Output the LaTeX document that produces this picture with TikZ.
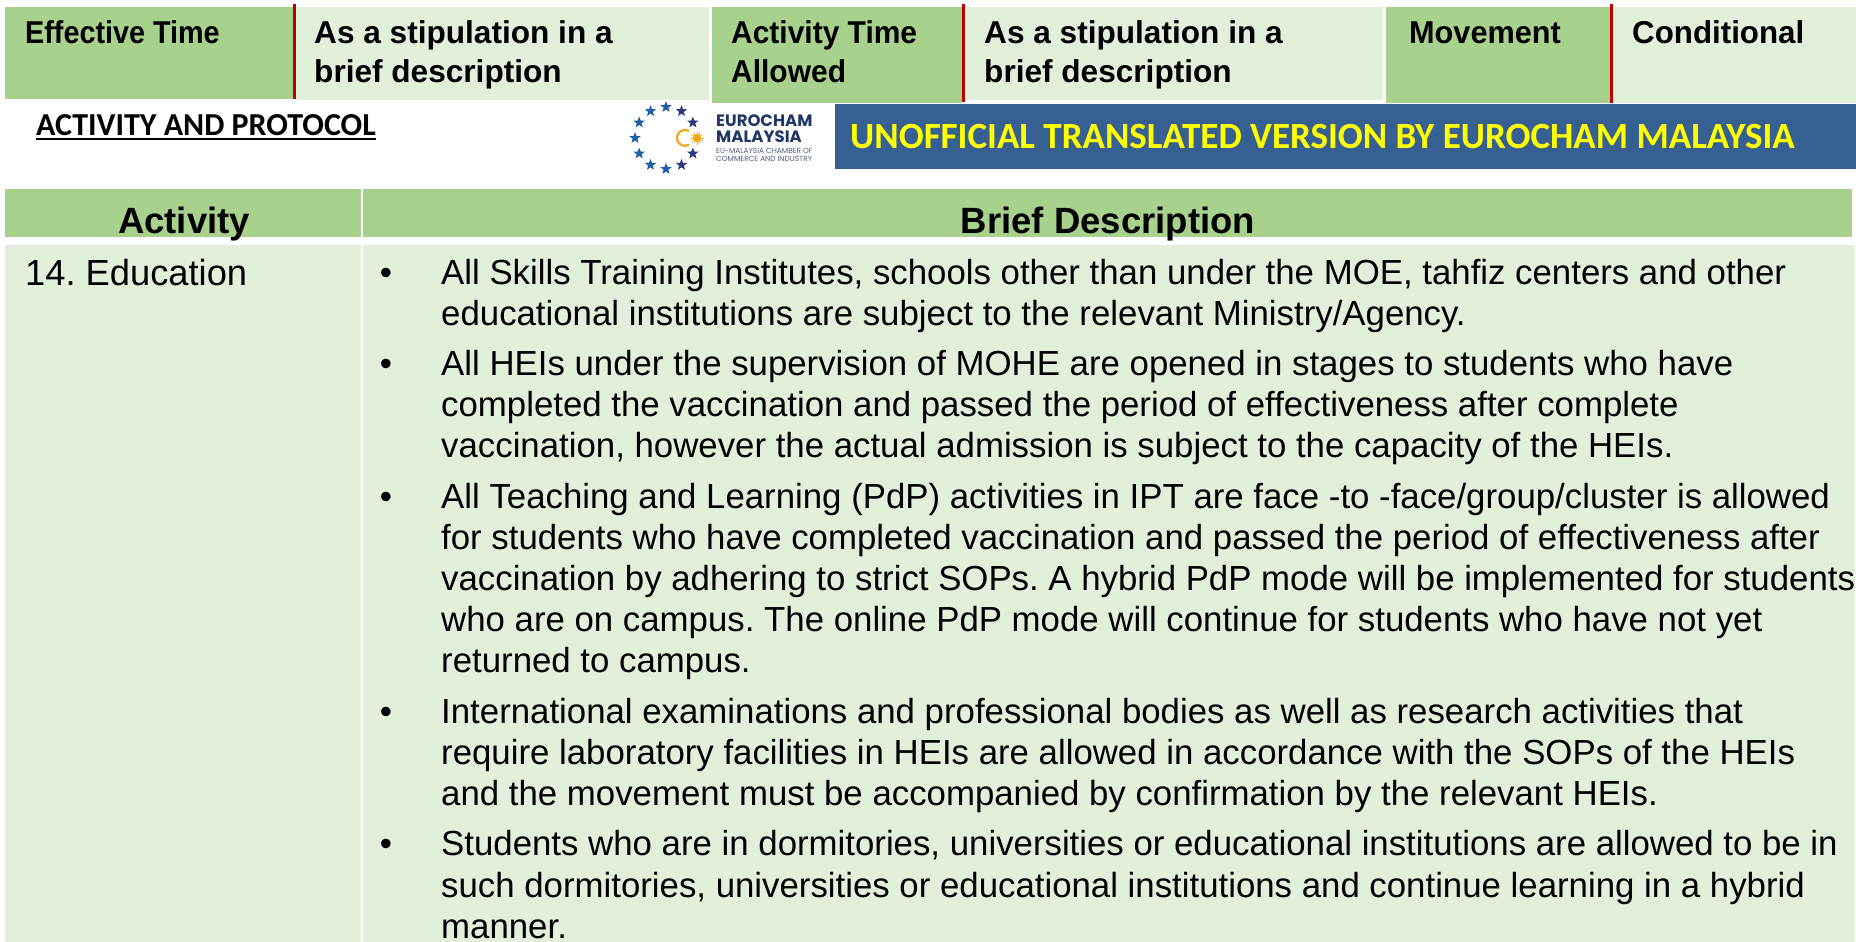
\documentclass[tikz,border=0pt]{standalone}
\usepackage{fontspec}
\setmainfont{Liberation Sans}
\newfontfamily\carl{Carlito}
\newfontfamily\logofont{Poppins}
\definecolor{hdgreen}{HTML}{A9D18E}
\definecolor{ltgreen}{HTML}{E2EFDA}
\definecolor{redbar}{HTML}{C00000}
\definecolor{bluebar}{HTML}{366092}
\definecolor{ylw}{HTML}{FFFF00}
\definecolor{navy}{HTML}{1F3864}
\definecolor{starblue}{HTML}{1F5FA8}
\definecolor{stardark}{HTML}{2B3A80}
\definecolor{sunc}{HTML}{F0A818}
\usetikzlibrary{shapes.geometric}
\frenchspacing
\newcommand{\sqz}[2]{\scalebox{#1}[1]{#2}}
\tikzset{
  x=1pt,y=-1pt,
  toptxt/.style={anchor=base west,inner sep=0pt,font=\fontsize{31.6}{31.6}\selectfont\bfseries},
  headtxt/.style={anchor=base,inner sep=0pt,font=\fontsize{36.5}{36.5}\selectfont\bfseries},
  bodytxt/.style={anchor=base west,inner sep=0pt,font=\fontsize{34.8}{34.8}\selectfont},
  bullettxt/.style={anchor=base,inner sep=0pt,font=\fontsize{34.8}{34.8}\selectfont},
  euStar/.style={star,star points=5,star point ratio=2.4,inner sep=0pt,minimum size=12pt,draw=none,fill=#1},
  logobig/.style={anchor=base west,inner sep=0pt,text=navy,font=\logofont\fontsize{16.5}{17}\selectfont\bfseries},
  logosmall/.style={anchor=base west,inner sep=0pt,text=navy!80,font=\logofont\fontsize{7.4}{8}\selectfont},
}
\begin{document}
\begin{tikzpicture}
\useasboundingbox (0,0) rectangle (1856,942);
\fill[white] (0,0) rectangle (1856,942);
% top row
\fill[hdgreen] (5,7) rectangle (293,99);
\fill[ltgreen] (295,7) rectangle (709,100);
\fill[hdgreen] (712,7) rectangle (962,103);
\fill[ltgreen] (964,7) rectangle (1383,100);
\fill[hdgreen] (1386,7) rectangle (1610,103);
\fill[ltgreen] (1612,7) rectangle (1856,103);
\fill[redbar] (293,4) rectangle (295.5,99);
\fill[redbar] (962,4) rectangle (964.5,102);
\fill[redbar] (1610,4) rectangle (1612.5,103);
\node[toptxt] (t1) at (25,44) {\sqz{0.91}{Effective Time}};
\node[toptxt] (t2) at (314,44) {As a stipulation in a};
\node[toptxt] (t2b) at (314,82.5) {brief description};
\node[toptxt] (t3) at (731,44) {\sqz{0.948}{Activity Time}};
\node[toptxt] (t3b) at (731,82.5) {\sqz{0.948}{Allowed}};
\node[toptxt] (t4) at (984,44) {As a stipulation in a};
\node[toptxt] (t4b) at (984,82.5) {brief description};
\node[toptxt] (t5) at (1409,44) {\sqz{0.97}{Movement}};
\node[toptxt] (t6) at (1632,44) {\sqz{0.99}{Conditional}};
% subtitle
\node[anchor=base west,inner sep=0pt,font=\carl\fontsize{32}{32}\selectfont\bfseries] (sub) at (36,135) {ACTIVITY AND PROTOCOL};
\draw[line width=2pt] (sub.base west)+(0,3.5) -- ([yshift=-3.5pt]sub.base east);
% logo
\foreach \a/\c in {30/stardark,60/stardark,90/starblue,120/starblue,150/starblue,180/starblue,210/starblue,240/starblue,270/starblue,300/stardark,330/stardark}{
  \node[euStar=\c] (s\a) at ({666+31*cos(\a)},{138+31*sin(\a)}) {};
}
\draw[sunc,line width=2.2pt] (689,131) arc (-60:-300:8);
\fill[sunc] (697,138) circle (4.2);
\foreach \a in {0,30,...,330}{\draw[sunc,line width=.7pt] (697,138) -- ++(\a:6.5);}
\node[logobig] (l1) at (716,126) {EUROCHAM};
\node[logobig] (l2) at (716,142) {MALAYSIA};
\node[logosmall] (l3) at (716,153) {EU-MALAYSIA CHAMBER OF};
\node[logosmall] (l4) at (716,161) {COMMERCE AND INDUSTRY};
% banner
\fill[bluebar] (835,104) rectangle (1856,169);
\node[anchor=base west,inner sep=0pt,text=ylw,font=\carl\fontsize{37}{37}\selectfont\bfseries] (ban) at (850,148) {UNOFFICIAL TRANSLATED VERSION BY EUROCHAM MALAYSIA};
% table
\fill[hdgreen] (5,189) rectangle (361,237);
\fill[hdgreen] (363,189) rectangle (1852,237);
\fill[ltgreen] (5,245) rectangle (361,942);
\fill[ltgreen] (363,245) rectangle (1855,942);
\node[headtxt] (h1) at (184,233) {Activity};
\node[headtxt] (h2) at (1108,233) {Brief Description};
\node[anchor=base west,inner sep=0pt,font=\fontsize{36.3}{36.3}\selectfont] (a1) at (25,285) {14. Education};
\foreach \n/\y in {b1/284,b2/375,b3/508,b4/723,b5/855}{\node[bullettxt] (\n) at (386,\y) {•};}
\node[bodytxt] (x1) at (441,284) {All Skills Training Institutes, schools other than under the MOE, tahfiz centers and other};
\node[bodytxt] (x2) at (441,325) {educational institutions are subject to the relevant Ministry/Agency.};
\node[bodytxt] (x3) at (441,375) {All HEIs under the supervision of MOHE are opened in stages to students who have};
\node[bodytxt] (x4) at (441,416) {completed the vaccination and passed the period of effectiveness after complete};
\node[bodytxt] (x5) at (441,457) {vaccination, however the actual admission is subject to the capacity of the HEIs.};
\node[bodytxt] (x6) at (441,508) {All Teaching and Learning (PdP) activities in IPT are face -to -face/group/cluster is allowed};
\node[bodytxt] (x7) at (441,549) {for students who have completed vaccination and passed the period of effectiveness after};
\node[bodytxt] (x8) at (441,590) {vaccination by adhering to strict SOPs. A hybrid PdP mode will be implemented for students};
\node[bodytxt] (x9) at (441,631) {who are on campus. The online PdP mode will continue for students who have not yet};
\node[bodytxt] (x10) at (441,672) {returned to campus.};
\node[bodytxt] (x11) at (441,723) {International examinations and professional bodies as well as research activities that};
\node[bodytxt] (x12) at (441,764) {require laboratory facilities in HEIs are allowed in accordance with the SOPs of the HEIs};
\node[bodytxt] (x13) at (441,805) {and the movement must be accompanied by confirmation by the relevant HEIs.};
\node[bodytxt] (x14) at (441,855) {Students who are in dormitories, universities or educational institutions are allowed to be in};
\node[bodytxt] (x15) at (441,897) {such dormitories, universities or educational institutions and continue learning in a hybrid};
\node[bodytxt] (x16) at (441,938) {manner.};
\end{tikzpicture}
\end{document}
